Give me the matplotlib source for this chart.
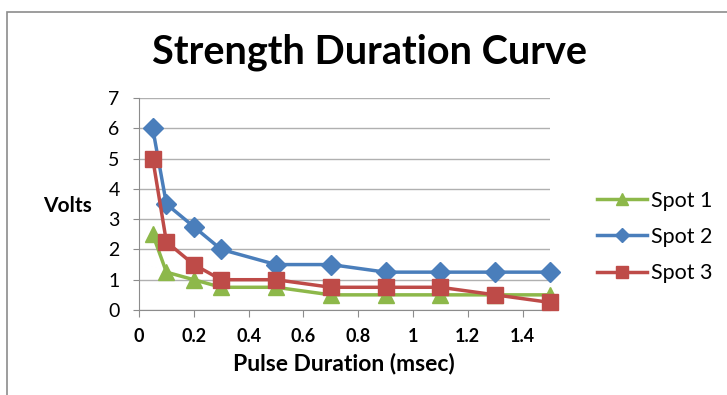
import matplotlib.pyplot as plt
from matplotlib.patches import Rectangle

plt.rcParams['font.family'] = ['Lato', 'DejaVu Sans']

# pulse duration (msec) and thresholds (volts)
durations = [0.05, 0.1, 0.2, 0.3, 0.5, 0.7, 0.9, 1.1, 1.3, 1.5]
spot1 = [2.5, 1.25, 1.0, 0.75, 0.75, 0.5, 0.5, 0.5, 0.5, 0.5]
spot2 = [6.0, 3.5, 2.75, 2.0, 1.5, 1.5, 1.25, 1.25, 1.25, 1.25]
spot3 = [5.0, 2.25, 1.5, 1.0, 1.0, 0.75, 0.75, 0.75, 0.5, 0.25]

x_ticks = [0, 0.2, 0.4, 0.6, 0.8, 1.0, 1.2, 1.4]
x_tick_labels = ["0", "0.2", "0.4", "0.6", "0.8", "1", "1.2", "1.4"]

fig = plt.figure(figsize=(7.27, 3.95), dpi=100)
ax = fig.add_axes([139 / 727, 1 - 310 / 395, (550 - 139) / 727, (310 - 98) / 395])

# chart border like the spreadsheet frame
fig.patches.append(Rectangle((7 / 727, -0.1), 1.1, 1 - 12 / 395 + 0.1, transform=fig.transFigure,
                             fill=False, edgecolor='#8c8c8c', linewidth=1.2))

ax.plot(durations, spot1, color='#8db84a', marker='^', markersize=11, linewidth=2.5, label='Spot 1',
        clip_on=False, zorder=3)
ax.plot(durations, spot2, color='#4a7ebb', marker='D', markersize=10, linewidth=2.5, label='Spot 2',
        clip_on=False, zorder=4)
ax.plot(durations, spot3, color='#be4b48', marker='s', markersize=12, linewidth=2.5, label='Spot 3',
        clip_on=False, zorder=5)

ax.set_xlim(0, 1.5)
ax.set_ylim(0, 7)
ax.set_xticks(x_ticks)
ax.set_xticklabels(x_tick_labels, fontweight='bold', fontsize=13)
ax.set_yticks(range(0, 8))
ax.tick_params(axis='y', labelsize=14, length=4, color='#8c8c8c', pad=10)
ax.tick_params(axis='x', length=5, color='#8c8c8c', pad=8)

ax.grid(axis='y', color='#b0b0b0', linewidth=1.0)
ax.set_axisbelow(True)
for side in ['top', 'right']:
    ax.spines[side].set_visible(False)
for side in ['left', 'bottom']:
    ax.spines[side].set_color('#8c8c8c')

fig.text(370 / 727, 1 - 52 / 395, 'Strength Duration Curve', ha='center', va='center',
         fontsize=28.5, fontweight='bold')
fig.text(67 / 727, 1 - 206 / 395, 'Volts', ha='center', va='center', fontsize=15, fontweight='bold')
fig.text(344 / 727, 1 - 363 / 395, 'Pulse Duration (msec)', ha='center', va='center',
         fontsize=16.5, fontweight='bold')

fig.legend(loc='center left', bbox_to_anchor=(597 / 727, 1 - 237 / 395), frameon=False,
           fontsize=15.5, handlelength=2.3, labelspacing=0.75, handletextpad=0.2, markerscale=0.75,
           borderpad=0, borderaxespad=0)

fig.savefig('out.png', dpi=100)
